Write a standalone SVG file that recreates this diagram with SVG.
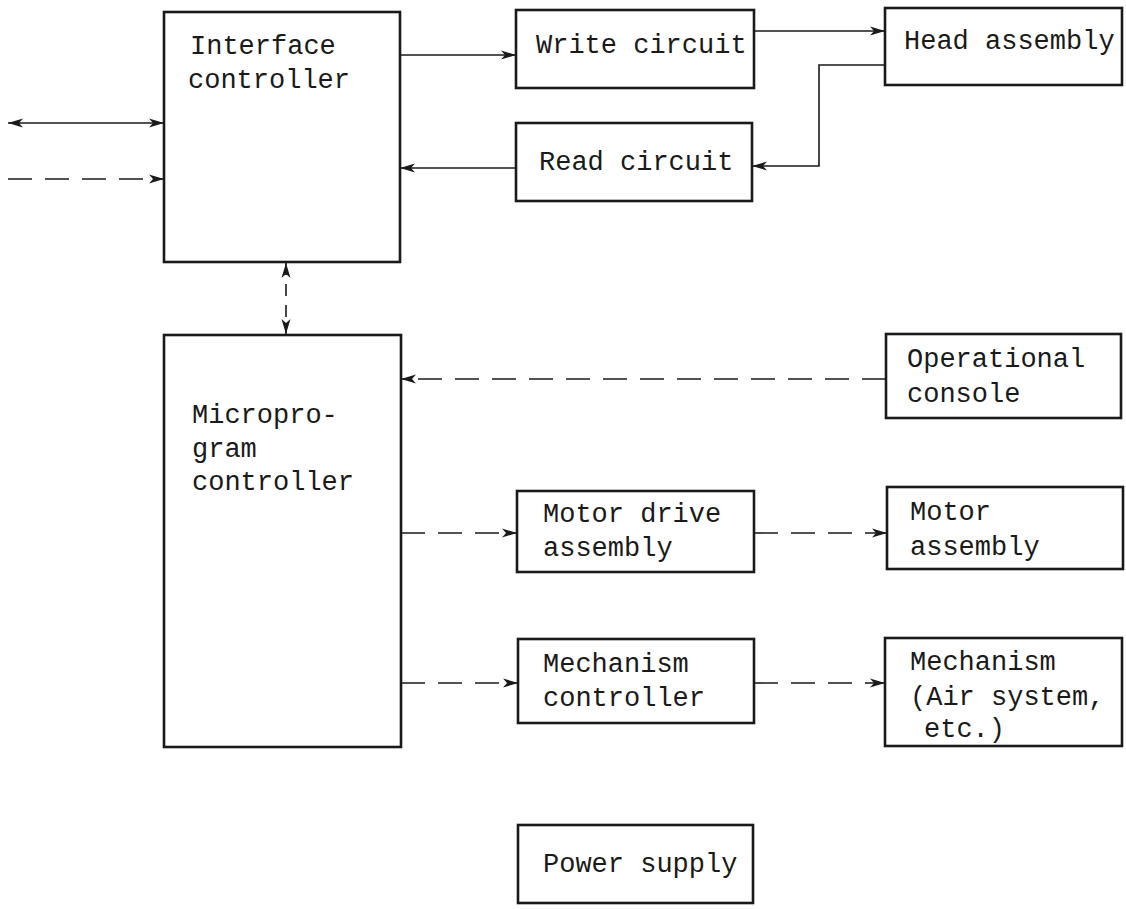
<svg xmlns="http://www.w3.org/2000/svg" width="1126" height="909" viewBox="0 0 1126 909">
<style>
.box{fill:none;stroke:#1a1a1a;stroke-width:2.6}
.t{font-family:"Liberation Mono","DejaVu Sans Mono",monospace;font-size:27px;fill:#1a1a1a}
.c{fill:none;stroke:#1a1a1a;stroke-width:1.6}
.d{stroke-dasharray:24 13}
.ds{stroke-dasharray:12 9}
</style>
<defs>
<marker id="ah" markerUnits="userSpaceOnUse" markerWidth="16" markerHeight="10" refX="15" refY="5" orient="auto-start-reverse" viewBox="0 0 16 10">
<path d="M0,0.5 L15,5 L0,9.5 L4,5 z" fill="#1a1a1a"/>
</marker>
</defs>
<rect width="1126" height="909" fill="#fff"/>
<g id="interface-controller"><rect class="box" x="164" y="12" width="236" height="250"/><text class="t" x="190" y="54">Interface</text><text class="t" x="188" y="88">controller</text></g>
<g id="write-circuit"><rect class="box" x="516" y="10" width="238" height="78"/><text class="t" x="536" y="53">Write circuit</text></g>
<g id="read-circuit"><rect class="box" x="516" y="123" width="236" height="78"/><text class="t" x="539" y="170">Read circuit</text></g>
<g id="head-assembly"><rect class="box" x="885" y="8" width="237" height="77"/><text class="t" x="904" y="49">Head assembly</text></g>
<g id="microprogram-controller"><rect class="box" x="164" y="335" width="237" height="412"/><text class="t" x="192" y="423">Micropro-</text><text class="t" x="192" y="457">gram</text><text class="t" x="192" y="490">controller</text></g>
<g id="operational-console"><rect class="box" x="886" y="334" width="235" height="84"/><text class="t" x="907" y="367">Operational</text><text class="t" x="907" y="402">console</text></g>
<g id="motor-drive-assembly"><rect class="box" x="517" y="491" width="237" height="81"/><text class="t" x="543" y="522">Motor drive</text><text class="t" x="543" y="556">assembly</text></g>
<g id="motor-assembly"><rect class="box" x="887" y="487" width="236" height="82"/><text class="t" x="910" y="520">Motor</text><text class="t" x="910" y="555">assembly</text></g>
<g id="mechanism-controller"><rect class="box" x="518" y="639" width="236" height="84"/><text class="t" x="543" y="672">Mechanism</text><text class="t" x="543" y="706">controller</text></g>
<g id="mechanism"><rect class="box" x="885" y="638" width="237" height="108"/><text class="t" x="910" y="670">Mechanism</text><text class="t" x="910" y="705">(Air system,</text><text class="t" x="924" y="737">etc.)</text></g>
<g id="power-supply"><rect class="box" x="518" y="825" width="235" height="78"/><text class="t" x="543" y="872">Power supply</text></g>
<g id="connectors">
<line class="c" x1="8" y1="123" x2="164" y2="123" marker-start="url(#ah)" marker-end="url(#ah)"/>
<line class="c d" x1="8" y1="179" x2="164" y2="179" marker-end="url(#ah)"/>
<line class="c" x1="400" y1="55" x2="516" y2="55" marker-end="url(#ah)"/>
<line class="c" x1="516" y1="168" x2="400" y2="168" marker-end="url(#ah)"/>
<line class="c" x1="754" y1="31" x2="885" y2="31" marker-end="url(#ah)"/>
<polyline class="c" points="885,65 819,65 819,166 752,166" marker-end="url(#ah)"/>
<line class="c ds" x1="286" y1="263" x2="286" y2="334" marker-start="url(#ah)" marker-end="url(#ah)"/>
<line class="c d" x1="886" y1="379" x2="401" y2="379" marker-end="url(#ah)"/>
<line class="c d" x1="401" y1="533" x2="517" y2="533" marker-end="url(#ah)"/>
<line class="c d" x1="754" y1="533" x2="887" y2="533" marker-end="url(#ah)"/>
<line class="c d" x1="401" y1="683" x2="518" y2="683" marker-end="url(#ah)"/>
<line class="c d" x1="754" y1="683" x2="885" y2="683" marker-end="url(#ah)"/>
</g>
</svg>
